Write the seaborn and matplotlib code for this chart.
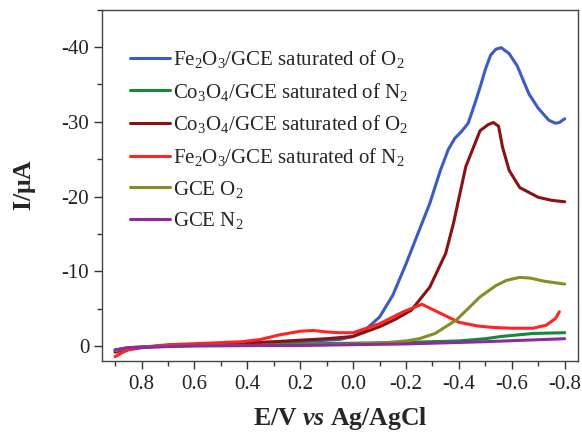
import matplotlib
matplotlib.use("Agg")
import matplotlib.pyplot as plt
import seaborn as sns
import pandas as pd
from matplotlib.ticker import MultipleLocator

sns.set_theme(style="ticks")
plt.rcParams['font.family'] = ['Liberation Serif', 'DejaVu Serif']
plt.rcParams['mathtext.fontset'] = 'custom'
plt.rcParams['mathtext.rm'] = 'Liberation Serif'
plt.rcParams['mathtext.it'] = 'Liberation Serif:italic'
plt.rcParams['mathtext.bf'] = 'Liberation Serif:bold'
plt.rcParams['mathtext.bfit'] = 'Liberation Serif:bold:italic'

labels = [
    r"Fe$_2$O$_3$/GCE saturated of O$_2$",
    r"Co$_3$O$_4$/GCE saturated of N$_2$",
    r"Co$_3$O$_4$/GCE saturated of O$_2$",
    r"Fe$_2$O$_3$/GCE saturated of N$_2$",
    r"GCE O$_2$",
    r"GCE N$_2$",
]
colors = ["#3b5cc4", "#14893a", "#8b1212", "#ff2424", "#8a8a26", "#8c2c9c"]

# potential (V vs Ag/AgCl) and current (uA)
fe_o2_E = [0.90, 0.85, 0.70, 0.50, 0.30, 0.15, 0.05, 0.00, -0.05, -0.10, -0.15, -0.20,
           -0.25, -0.29, -0.33, -0.36, -0.385, -0.41, -0.435, -0.46, -0.48, -0.50,
           -0.52, -0.54, -0.56, -0.59, -0.62, -0.665, -0.70, -0.74, -0.765, -0.78, -0.80]
fe_o2_I = [0.5, 0.2, -0.1, -0.3, -0.5, -0.7, -0.9, -1.3, -2.3, -3.9, -6.8, -11.0,
           -15.5, -19.1, -23.5, -26.3, -27.8, -28.7, -29.8, -32.4, -34.6, -37.0,
           -38.9, -39.7, -39.9, -39.1, -37.5, -33.7, -31.8, -30.2, -29.8, -29.9, -30.4]

co_n2_E = [0.90, 0.85, 0.60, 0.20, -0.20, -0.40, -0.50, -0.56, -0.62, -0.68, -0.80]
co_n2_I = [0.7, 0.2, -0.1, -0.3, -0.5, -0.7, -1.0, -1.3, -1.5, -1.7, -1.8]

co_o2_E = [0.90, 0.85, 0.70, 0.50, 0.30, 0.10, 0.00, -0.10, -0.16, -0.22, -0.29, -0.35,
           -0.38, -0.426, -0.48, -0.51, -0.53, -0.55, -0.565, -0.59, -0.63, -0.70,
           -0.75, -0.80]
co_o2_I = [0.8, 0.3, -0.1, -0.3, -0.6, -1.0, -1.3, -2.6, -3.6, -4.8, -7.9, -12.4,
           -16.5, -24.0, -28.8, -29.6, -29.9, -29.4, -26.6, -23.5, -21.2, -19.9,
           -19.5, -19.3]

fe_n2_E = [0.90, 0.87, 0.85, 0.78, 0.70, 0.55, 0.42, 0.35, 0.28, 0.20, 0.15, 0.10,
           0.05, 0.00, -0.10, -0.19, -0.26, -0.33, -0.40, -0.47, -0.53, -0.60, -0.68,
           -0.73, -0.765, -0.78]
fe_n2_I = [1.4, 0.8, 0.5, 0.1, -0.2, -0.4, -0.6, -0.9, -1.5, -2.0, -2.1, -1.9,
           -1.8, -1.8, -3.0, -4.6, -5.6, -4.4, -3.2, -2.7, -2.5, -2.4, -2.4,
           -2.8, -3.7, -4.6]

gce_o2_E = [0.90, 0.85, 0.70, 0.40, 0.10, -0.10, -0.20, -0.25, -0.31, -0.39, -0.44,
            -0.48, -0.54, -0.58, -0.63, -0.67, -0.72, -0.80]
gce_o2_I = [0.6, 0.2, 0.0, -0.1, -0.2, -0.4, -0.7, -1.0, -1.7, -3.5, -5.2,
            -6.6, -8.1, -8.8, -9.2, -9.1, -8.7, -8.3]

gce_n2_E = [0.90, 0.85, 0.60, 0.20, -0.20, -0.50, -0.80]
gce_n2_I = [0.5, 0.2, -0.05, -0.1, -0.3, -0.6, -1.0]

series = [(fe_o2_E, fe_o2_I), (co_n2_E, co_n2_I), (co_o2_E, co_o2_I),
          (fe_n2_E, fe_n2_I), (gce_o2_E, gce_o2_I), (gce_n2_E, gce_n2_I)]

frames = []
for name, (e, i) in zip(labels, series):
    frames.append(pd.DataFrame({"E": e, "I": i, "curve": name}))
df = pd.concat(frames, ignore_index=True)

fig = plt.figure(figsize=(5.82, 4.32), dpi=100)
ax = fig.add_axes([0.175, 0.164, 0.818, 0.814])

sns.lineplot(data=df, x="E", y="I", hue="curve", hue_order=labels,
             palette=colors, estimator=None, sort=False, linewidth=2.2, ax=ax)

ax.set_xlim(0.95, -0.85)
ax.set_ylim(2.0, -45.0)
ax.xaxis.set_major_locator(MultipleLocator(0.2))
ax.xaxis.set_minor_locator(MultipleLocator(0.1))
ax.yaxis.set_major_locator(MultipleLocator(10))
ax.yaxis.set_minor_locator(MultipleLocator(5))
ax.xaxis.set_major_formatter(plt.FuncFormatter(lambda v, p: f"{v:.1f}".replace("-0.0", "0.0")))
ax.yaxis.set_major_formatter(plt.FuncFormatter(lambda v, p: "0" if abs(v) < 0.5 else f"{v:.0f}"))
ax.tick_params(which="major", length=6, width=1, labelsize=15, colors="#333333",
               labelcolor="#222222", direction="out")
ax.tick_params(axis="x", which="major", pad=4)
ax.tick_params(axis="y", which="major", pad=3)
ax.tick_params(which="minor", length=3.5, width=1, colors="#333333", direction="out")
for s in ax.spines.values():
    s.set_color("#444444")
    s.set_linewidth(1.0)
    s.set_visible(True)

ax.set_xlabel(r"E/V $\mathbfit{vs}$ Ag/AgCl", fontsize=18.5, fontweight="bold", labelpad=8)
ax.set_ylabel(r"I/$\mathbf{\mu}$A", fontsize=18.5, fontweight="bold", labelpad=17)

ax.legend(loc="upper left", bbox_to_anchor=(0.042, 0.914), frameon=False, fontsize=15,
          handlelength=1.9, handletextpad=0.15, labelspacing=0.51, borderaxespad=0.0)

fig.savefig("out.png", dpi=100)
